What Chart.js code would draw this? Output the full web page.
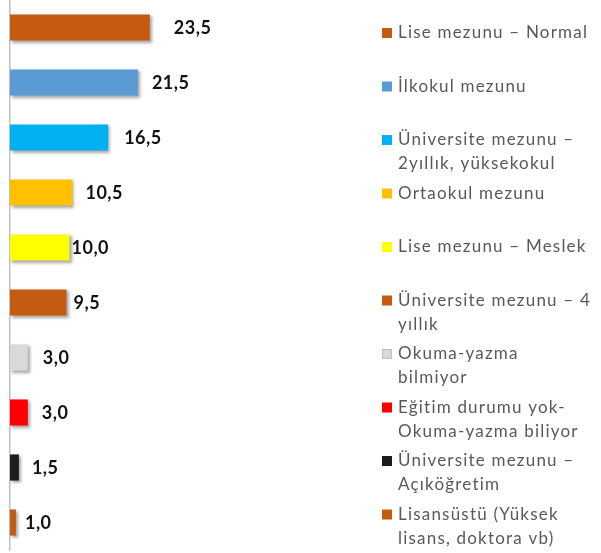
<!DOCTYPE html>
<html>
<head>
<meta charset="utf-8">
<script src="https://cdn.jsdelivr.net/npm/chart.js@4/dist/chart.umd.min.js"></script>
<style>
  html, body { margin: 0; padding: 0; background: #ffffff; }
  #wrap { width: 601px; height: 553px; }
</style>
</head>
<body>
<div id="wrap"><canvas id="c" width="601" height="553"></canvas></div>
<script>
// ---- data ----
const categories = [
  ['Lise mezunu – Normal'],
  ['İlkokul mezunu'],
  ['Üniversite mezunu –', '2yıllık, yüksekokul'],
  ['Ortaokul mezunu'],
  ['Lise mezunu – Meslek'],
  ['Üniversite mezunu – 4', 'yıllık'],
  ['Okuma-yazma', 'bilmiyor'],
  ['Eğitim durumu yok-', 'Okuma-yazma biliyor'],
  ['Üniversite mezunu –', 'Açıköğretim'],
  ['Lisansüstü (Yüksek', 'lisans, doktora vb)']
];
const values = [23.5, 21.5, 16.5, 10.5, 10.0, 9.5, 3.0, 3.0, 1.5, 1.0];
const barColors = ['#C55A11', '#5B9BD5', '#00B0F0', '#FFC000', '#FFFF00',
                   '#C55A11', '#D9D9D9', '#FF0000', '#1C1C1C', '#C55A11'];
// label gaps after bar end (style)
const labelGaps = [24, 14, 16, 13, 2, 7, 15, 14, 13, 9];

const fmt = v => v.toFixed(1).replace('.', ',');

const shadowPlugin = {
  id: 'shadow',
  beforeDatasetsDraw(chart) {
    const ctx = chart.ctx;
    ctx.save();
    ctx.shadowColor = 'rgba(0,0,0,0.35)';
    ctx.shadowOffsetX = 2;
    ctx.shadowOffsetY = 2;
    ctx.shadowBlur = 3;
  },
  afterDatasetsDraw(chart) {
    chart.ctx.restore();
  }
};

const valueLabels = {
  id: 'valueLabels',
  afterDraw(chart) {
    const ctx = chart.ctx;
    const meta = chart.getDatasetMeta(0);
    ctx.save();
    ctx.font = 'bold 18px Lato, "Open Sans", sans-serif';
    ctx.letterSpacing = '0.5px';
    ctx.fillStyle = '#111111';
    ctx.textBaseline = 'middle';
    ctx.textAlign = 'left';
    meta.data.forEach((bar, i) => {
      ctx.fillText(fmt(values[i]), bar.x + labelGaps[i], bar.y + 1);
    });
    ctx.restore();
  }
};

const sideLegend = {
  id: 'sideLegend',
  afterDraw(chart, args, opts) {
    const ctx = chart.ctx;
    ctx.save();
    ctx.font = '17px Lato, "Open Sans", sans-serif';
    ctx.letterSpacing = '1.2px';
    ctx.textBaseline = 'middle';
    ctx.textAlign = 'left';
    categories.forEach((lines, i) => {
      const y = opts.top + i * opts.step;
      ctx.fillStyle = barColors[i];
      ctx.fillRect(opts.boxX, y - 5, 10, 10);
      if (barColors[i] === '#D9D9D9') {
        ctx.strokeStyle = '#BFBFBF';
        ctx.lineWidth = 1;
        ctx.strokeRect(opts.boxX + 0.5, y - 4.5, 9, 9);
      }
      ctx.fillStyle = '#595959';
      lines.forEach((t, j) => ctx.fillText(t, opts.textX, y + j * opts.lineH));
    });
    ctx.restore();
  }
};

new Chart(document.getElementById('c'), {
  type: 'bar',
  data: {
    labels: categories.map(c => c.join(' ')),
    datasets: [{
      data: values,
      backgroundColor: barColors,
      borderWidth: 0,
      barPercentage: 0.475,
      categoryPercentage: 1.0
    }]
  },
  options: {
    indexAxis: 'y',
    responsive: false,
    animation: false,
    devicePixelRatio: 1,
    layout: { padding: { left: 10, right: 353, top: 0, bottom: 3 } },
    scales: {
      x: { display: false, min: 0, max: 40 },
      y: {
        ticks: { display: false },
        grid: { display: false, drawTicks: false },
        border: { display: true, color: '#BFBFBF', width: 1.5 }
      }
    },
    plugins: {
      legend: { display: false },
      tooltip: { enabled: false },
      sideLegend: { top: 33, step: 53.5, boxX: 382, textX: 398, lineH: 24 }
    }
  },
  plugins: [shadowPlugin, valueLabels, sideLegend]
});
</script>
</body>
</html>
